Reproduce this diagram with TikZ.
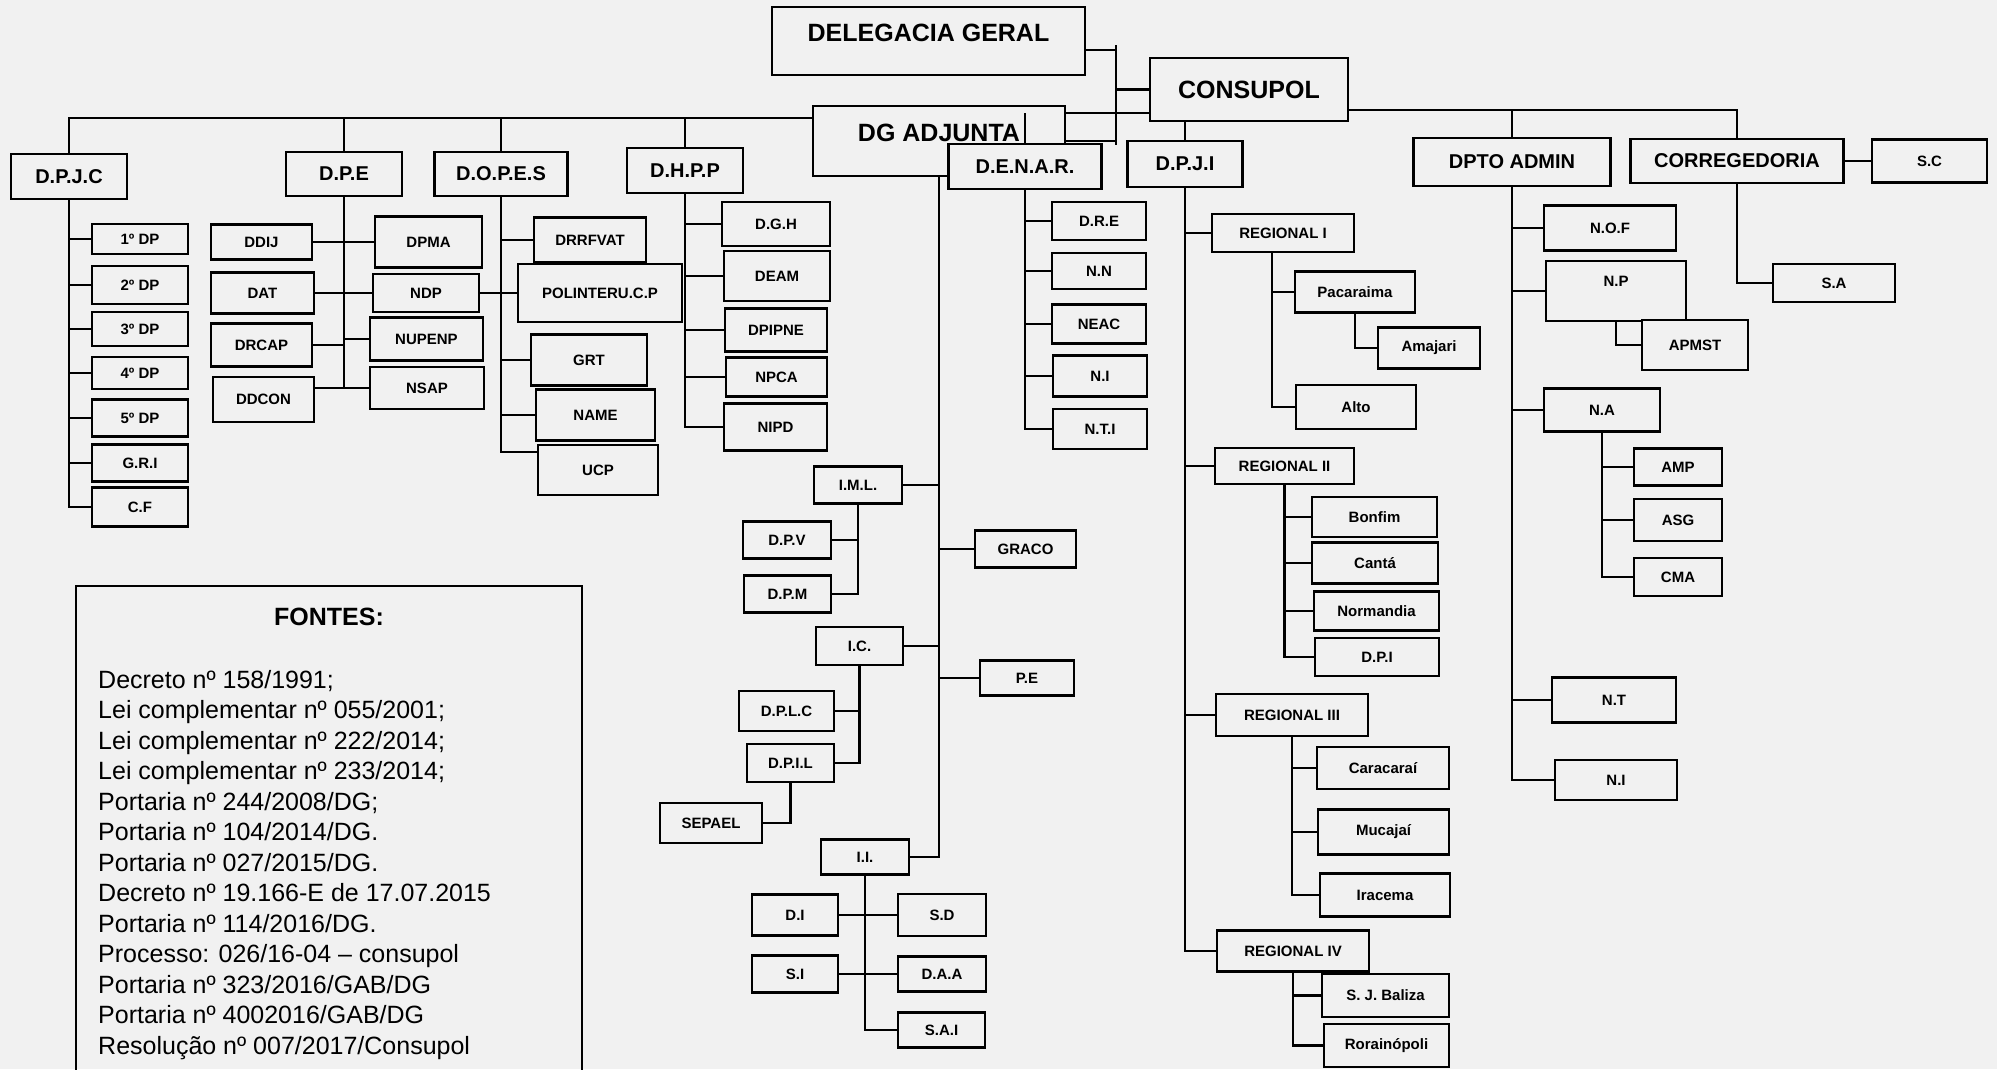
\documentclass[tikz,border=0pt]{standalone}
\usepackage{fontspec}
\setmainfont{Liberation Sans}
\definecolor{paper}{RGB}{241,241,241}
\newcommand\topfont{\fontsize{25}{30}\selectfont\bfseries}
\newcommand\midfont{\fontsize{20}{24}\selectfont\bfseries}
\newcommand\subfont{\fontsize{15}{18}\selectfont\bfseries}
\newcommand\srcfont{\fontsize{25}{30.5}\selectfont}
\tikzset{
    unit/.style={draw, line width=2.6pt, fill=paper, inner sep=0pt, font=\subfont}, % every box of the chart
    dim/.style 2 args={minimum width=#1, minimum height=#2}, % box size, in px
    head/.style={unit, font=\midfont}, % boxes hanging from a bus
    chief/.style={unit, font=\topfont}, % the top boxes
    link/.style={line width=2.6pt}, % connectors
}
\begin{document}
\begin{tikzpicture}[x=1pt, y=-1pt]
    \useasboundingbox (0,0) rectangle (1997,1069);
    \clip (0,0) rectangle (1997,1069);
    \fill[paper] (0,0) rectangle (1997,1069);

    % top of the chart
    \node[chief, dim={313}{68}, text depth=16pt] (dg) at (928.5,41) {DELEGACIA GERAL};
    \node[chief, dim={198}{63}] (consupol) at (1249,89.5) {CONSUPOL};
    \node[chief, dim={252}{70}, text depth=16pt] (dga) at (939,141) {DG ADJUNTA};
    \node[head, dim={116}{45}] (dpjc) at (69,176.5) {D.P.J.C};
    \node[head, dim={116}{44}] (dpe) at (344,174) {D.P.E};
    \node[head, dim={133}{44}] (dopes) at (501,174) {D.O.P.E.S};
    \node[head, dim={116}{45}] (dhpp) at (685,170.5) {D.H.P.P};
    \node[head, dim={153}{45}] (denar) at (1025,166.5) {D.E.N.A.R.};
    \node[head, dim={115}{46}] (dpji) at (1185,164) {D.P.J.I};
    \node[head, dim={197}{48}] (admin) at (1512,162) {DPTO ADMIN};
    \node[head, dim={213}{44}] (corr) at (1737,161) {CORREGEDORIA};
    \node[unit, dim={115}{43}] (sc) at (1929.5,161) {S.C};
    \node[unit, dim={122}{38}] (sa) at (1834,283) {S.A};

    % D.P.J.C
    \node[unit, dim={96}{30}] (dp1) at (140,239) {1º DP};
    \node[unit, dim={96}{38}] (dp2) at (140,285) {2º DP};
    \node[unit, dim={96}{34}] (dp3) at (140,329) {3º DP};
    \node[unit, dim={96}{32}] (dp4) at (140,373) {4º DP};
    \node[unit, dim={96}{37}] (dp5) at (140,418) {5º DP};
    \node[unit, dim={96}{37}] (gri) at (140,463) {G.R.I};
    \node[unit, dim={96}{39}] (cf) at (140,507) {C.F};

    % D.P.E
    \node[unit, dim={101}{35}] (ddij) at (261.5,242) {DDIJ};
    \node[unit, dim={107}{51}] (dpma) at (428.5,242) {DPMA};
    \node[unit, dim={103}{41}] (dat) at (262.5,293) {DAT};
    \node[unit, dim={106}{38}] (ndp) at (426,293) {NDP};
    \node[unit, dim={101}{43}] (drcap) at (261.5,345) {DRCAP};
    \node[unit, dim={113}{43}] (nupenp) at (426.5,339) {NUPENP};
    \node[unit, dim={101}{45}] (ddcon) at (263.5,399.5) {DDCON};
    \node[unit, dim={114}{42}] (nsap) at (427,388) {NSAP};

    % D.O.P.E.S
    \node[unit, dim={112}{45}] (drrfvat) at (590,240) {DRRFVAT};
    \node[unit, dim={164}{58}] (polinteru) at (600,293) {POLINTERU.C.P};
    \node[unit, dim={116}{51}] (grt) at (589,360) {GRT};
    \node[unit, dim={119}{51}] (nme) at (595.5,415) {NAME};
    \node[unit, dim={120}{50}] (ucp) at (598,470) {UCP};

    % D.H.P.P
    \node[unit, dim={108}{44}] (dgh) at (776,224) {D.G.H};
    \node[unit, dim={106}{50}] (deam) at (777,276) {DEAM};
    \node[unit, dim={102}{43}] (dpipne) at (776,330) {DPIPNE};
    \node[unit, dim={101}{39}] (npca) at (776.5,377) {NPCA};
    \node[unit, dim={103}{47}] (nipd) at (775.5,427) {NIPD};

    % DG ADJUNTA
    \node[unit, dim={88}{37}] (iml) at (858,485) {I.M.L.};
    \node[unit, dim={88}{37}] (dpv) at (787,540) {D.P.V};
    \node[unit, dim={87}{37}] (dpm) at (787.5,594) {D.P.M};
    \node[unit, dim={101}{37}] (graco) at (1025.5,549) {GRACO};
    \node[unit, dim={87}{38}] (ic) at (859.5,646) {I.C.};
    \node[unit, dim={94}{35}] (pe) at (1027,678) {P.E};
    \node[unit, dim={95}{40}] (dplc) at (786.5,711) {D.P.L.C};
    \node[unit, dim={87}{38}] (dpil) at (790.5,763) {D.P.I.L};
    \node[unit, dim={102}{40}] (sepael) at (711,823) {SEPAEL};
    \node[unit, dim={88}{35}] (ii) at (865,857) {I.I.};
    \node[unit, dim={86}{41}] (di) at (795,915) {D.I};
    \node[unit, dim={88}{42}] (sd) at (942,915) {S.D};
    \node[unit, dim={86}{37}] (si) at (795,974) {S.I};
    \node[unit, dim={88}{35}] (daa) at (942,974) {D.A.A};
    \node[unit, dim={87}{35}] (sai) at (941.5,1030) {S.A.I};

    % D.E.N.A.R.
    \node[unit, dim={94}{38}] (dre) at (1099,221) {D.R.E};
    \node[unit, dim={94}{36}] (nn) at (1099,271) {N.N};
    \node[unit, dim={94}{39}] (neac) at (1099,324) {NEAC};
    \node[unit, dim={94}{41}] (ni) at (1100,376) {N.I};
    \node[unit, dim={94}{40}] (nti) at (1100,429) {N.T.I};

    % D.P.J.I
    \node[unit, dim={142}{38}] (reg1) at (1283,233) {REGIONAL I};
    \node[unit, dim={120}{41}] (pacaraima) at (1355,292) {Pacaraima};
    \node[unit, dim={102}{41}] (amajari) at (1429,348) {Amajari};
    \node[unit, dim={120}{44}] (alto) at (1356,407) {Alto};
    \node[unit, dim={139}{36}] (reg2) at (1284.5,466) {REGIONAL II};
    \node[unit, dim={125}{40}] (bonfim) at (1374.5,517) {Bonfim};
    \node[unit, dim={126}{41}] (canta) at (1375,563) {Cantá};
    \node[unit, dim={125}{39}] (normandia) at (1376.5,611) {Normandia};
    \node[unit, dim={124}{38}] (dpi) at (1377,657) {D.P.I};
    \node[unit, dim={152}{42}] (reg3) at (1292,715) {REGIONAL III};
    \node[unit, dim={132}{42}] (caracarai) at (1383,768) {Caracaraí};
    \node[unit, dim={131}{45}] (mucajai) at (1383.5,832) {Mucajaí};
    \node[unit, dim={130}{43}] (iracema) at (1385,895) {Iracema};
    \node[unit, dim={152}{41}] (reg4) at (1293,951) {REGIONAL IV};
    \node[unit, dim={127}{43}] (baliza) at (1385.5,995.5) {S. J. Baliza};
    \node[unit, dim={125}{43}] (rorainopoli) at (1386.5,1045.5) {Rorainópoli};

    % DPTO ADMIN
    \node[unit, dim={132}{45}] (nof) at (1610,228) {N.O.F};
    \node[unit, dim={140}{60}, text depth=20pt] (np) at (1616,291) {N.P};
    \node[unit, dim={106}{50}] (apmst) at (1695,345) {APMST};
    \node[unit, dim={116}{43}] (na) at (1602,410) {N.A};
    \node[unit, dim={88}{37}] (amp) at (1678,467) {AMP};
    \node[unit, dim={88}{42}] (asg) at (1678,520) {ASG};
    \node[unit, dim={88}{38}] (cma) at (1678,577) {CMA};
    \node[unit, dim={124}{45}] (nt) at (1614,700) {N.T};
    \node[unit, dim={122}{40}] (nia) at (1616,780) {N.I};

    % sources
    \draw[link] (76,1090) |- (582,586) -- (582,1090);
    \node[font=\topfont] (fontes) at (329,617) {FONTES:};
    \node[font=\srcfont, align=left, anchor=north west, inner sep=0pt] (sources) at (98,670)
        {Decreto nº 158/1991;\\ Lei complementar nº 055/2001;\\ Lei complementar nº 222/2014;\\
         Lei complementar nº 233/2014;\\ Portaria nº 244/2008/DG;\\ Portaria nº 104/2014/DG.\\
         Portaria nº 027/2015/DG.\\ Decreto nº 19.166-E de 17.07.2015\\ Portaria nº 114/2016/DG.\\
         Processo: 026/16-04 – consupol\\ Portaria nº 323/2016/GAB/DG\\ Portaria nº 4002016/GAB/DG\\
         Resolução nº 007/2017/Consupol};

    % buses
    \coordinate (bus) at (0,118);
    \coordinate (rbus) at (0,110);
    \coordinate (hub) at (1116,45);
    \draw[link] ([yshift=-9pt]dg.east) -- ++(31,0);
    \draw[link] (hub) -- ++(0,100);
    \draw[link] (hub |- consupol.west) -- (consupol.west)
        (hub |- dga.east) -- (dga.east);
    \draw[link] (dpjc.north) -- (dpjc.north |- bus) -- (dga.west |- bus)
        (dga.east |- 0,113) -- (consupol.west |- 0,113)
        (dpe.north |- bus) -- (dpe.north)
        (dopes.north |- bus) -- (dopes.north)
        (dhpp.north |- bus) -- (dhpp.north)
        (denar.north |- 0,113) -- (denar.north);
    \draw[link] (dpji.north |- consupol.south) -- (dpji.north);
    \draw[link] (consupol.east |- rbus) -- (corr.north |- rbus) -- (corr.north)
        (admin.north |- rbus) -- (admin.north);
    \draw[link] (corr.east) -- (sc.west);
    \draw[link] (corr.south) |- (sa.west);

    % D.P.J.C
    \draw[link] (dpjc.south) |- (cf.west);
    \draw[link] (dpjc.south |- dp1.west) -- (dp1.west)
        (dpjc.south |- dp2.west) -- (dp2.west)
        (dpjc.south |- dp3.west) -- (dp3.west)
        (dpjc.south |- dp4.west) -- (dp4.west)
        (dpjc.south |- dp5.west) -- (dp5.west)
        (dpjc.south |- gri.west) -- (gri.west);

    % D.P.E
    \draw[link] (dpe.south) -- (dpe.south |- nsap.west);
    \draw[link] (ddij.east) -- (dpma.west)
        (dat.east) -- (ndp.west)
        (drcap.east) -- (dpe.south |- drcap.east)
        (dpe.south |- nupenp.west) -- (nupenp.west)
        (ddcon.east |- nsap.west) -- (nsap.west);
    \draw[link] (ndp.east) -- (polinteru.west);

    % D.O.P.E.S
    \draw[link] (dopes.south) |- ([yshift=18pt]ucp.west);
    \draw[link] (dopes.south |- drrfvat.west) -- (drrfvat.west)
        (dopes.south |- grt.west) -- (grt.west)
        (dopes.south |- nme.west) -- (nme.west);

    % D.H.P.P
    \draw[link] (dhpp.south) |- (nipd.west);
    \draw[link] (dhpp.south |- dgh.west) -- (dgh.west)
        (dhpp.south |- deam.west) -- (deam.west)
        (dhpp.south |- dpipne.west) -- (dpipne.west)
        (dhpp.south |- npca.west) -- (npca.west);

    % DG ADJUNTA
    \draw[link] (dga.south) |- (ii.east);
    \draw[link] (dga.south |- iml.east) -- (iml.east)
        (dga.south |- ic.east) -- (ic.east)
        (dga.south |- graco.west) -- (graco.west)
        (dga.south |- pe.west) -- (pe.west);
    \draw[link] (iml.south) |- (dpm.east);
    \draw[link] (iml.south |- dpv.east) -- (dpv.east);
    \draw[link] (ic.south) |- (dpil.east);
    \draw[link] (ic.south |- dplc.east) -- (dplc.east);
    \draw[link] (dpil.south) |- (sepael.east);
    \draw[link] (ii.south) |- (sai.west);
    \draw[link] (di.east) -- (sd.west)
        (si.east) -- (daa.west);

    % D.E.N.A.R.
    \draw[link] (denar.south) |- (nti.west);
    \draw[link] (denar.south |- dre.west) -- (dre.west)
        (denar.south |- nn.west) -- (nn.west)
        (denar.south |- neac.west) -- (neac.west)
        (denar.south |- ni.west) -- (ni.west);

    % D.P.J.I
    \draw[link] (dpji.south) |- (reg4.west);
    \draw[link] (dpji.south |- reg1.west) -- (reg1.west)
        (dpji.south |- reg2.west) -- (reg2.west)
        (dpji.south |- reg3.west) -- (reg3.west);
    \coordinate (r1) at ([xshift=-11pt]reg1.south);
    \draw[link] (r1) |- (alto.west);
    \draw[link] (r1 |- pacaraima.west) -- (pacaraima.west);
    \draw[link] (pacaraima.south) |- (amajari.west);
    \draw[link] (reg2.south) |- (dpi.west);
    \draw[link] (reg2.south |- bonfim.west) -- (bonfim.west)
        (reg2.south |- canta.west) -- (canta.west)
        (reg2.south |- normandia.west) -- (normandia.west);
    \draw[link] (reg3.south) |- (iracema.west);
    \draw[link] (reg3.south |- caracarai.west) -- (caracarai.west)
        (reg3.south |- mucajai.west) -- (mucajai.west);
    \draw[link] (reg4.south) |- (rorainopoli.west);
    \draw[link] (reg4.south |- baliza.west) -- (baliza.west);

    % DPTO ADMIN
    \draw[link] (admin.south) |- (nia.west);
    \draw[link] (admin.south |- nof.west) -- (nof.west)
        (admin.south |- np.west) -- (np.west)
        (admin.south |- na.west) -- (na.west)
        (admin.south |- nt.west) -- (nt.west);
    \draw[link] (np.south) |- (apmst.west);
    \draw[link] (na.south) |- (cma.west);
    \draw[link] (na.south |- amp.west) -- (amp.west)
        (na.south |- asg.west) -- (asg.west);
\end{tikzpicture}
\end{document}
